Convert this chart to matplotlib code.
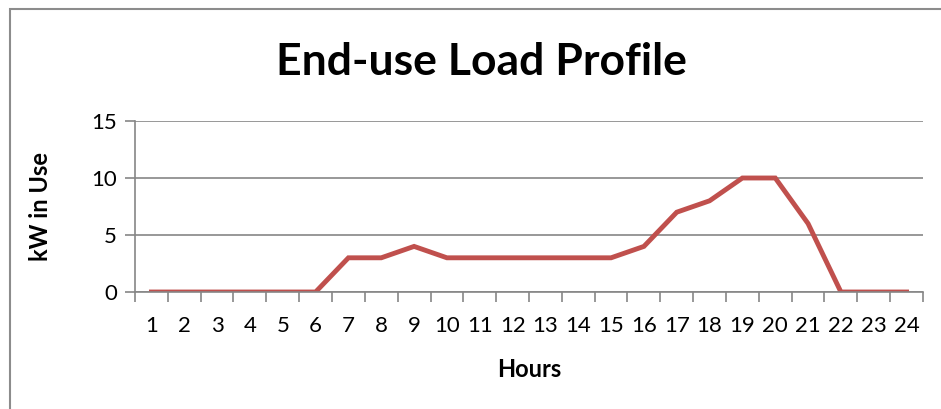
import matplotlib.pyplot as plt
from matplotlib.patches import Rectangle

# dati
hours = [str(h) for h in range(1, 25)]
kw_in_use = [0, 0, 0, 0, 0, 0, 3, 3, 4, 3, 3, 3, 3, 3, 3, 4, 7, 8, 10, 10, 6, 0, 0, 0]
y_ticks = [0, 5, 10, 15]

plt.rcParams['font.family'] = ['Lato', 'DejaVu Sans']

W, H = 941, 409
fig = plt.figure(figsize=(W / 100, H / 100), dpi=100)

# bordo del grafico (stile Excel)
fig.patches.append(Rectangle((10 / W, -0.1), 2.0, 1 - 9 / H + 0.1, transform=fig.transFigure,
                             fill=False, edgecolor='#8c8c8c', linewidth=1.5))

ax = fig.add_axes([135 / W, 1 - 292 / H, (923 - 135) / W, (292 - 121) / H])

x = list(range(len(hours)))
ax.plot(x, kw_in_use, color='#C0504D', linewidth=3.5, solid_joinstyle='miter')

ax.set_xlim(-0.5, len(hours) - 0.5)
ax.set_ylim(0, 15)
ax.set_yticks(y_ticks)
ax.set_xticks(x)
ax.set_xticklabels(hours)
ax.set_xticks([i - 0.5 for i in range(len(hours) + 1)], minor=True)

grid_col = '#868686'
ax.grid(axis='y', color=grid_col, linewidth=1.2)
ax.set_axisbelow(True)
for s in ['top', 'right']:
    ax.spines[s].set_visible(False)
for s in ['left', 'bottom']:
    ax.spines[s].set_color(grid_col)
    ax.spines[s].set_linewidth(1.2)

ax.tick_params(axis='x', which='major', length=0, labelsize=16, pad=17)
ax.tick_params(axis='x', which='minor', length=7, color=grid_col, width=1.2)
ax.tick_params(axis='y', length=7, color=grid_col, width=1.2, labelsize=16, pad=6)

ax.set_xlabel('Hours', fontsize=17, fontweight='bold', labelpad=16)
ax.set_ylabel('kW in Use', fontsize=17, fontweight='bold', labelpad=28)

fig.text(481 / W, 1 - 62 / H, 'End-use Load Profile', fontsize=32, fontweight='bold',
         ha='center', va='center')

fig.savefig('out.png', dpi=100)
